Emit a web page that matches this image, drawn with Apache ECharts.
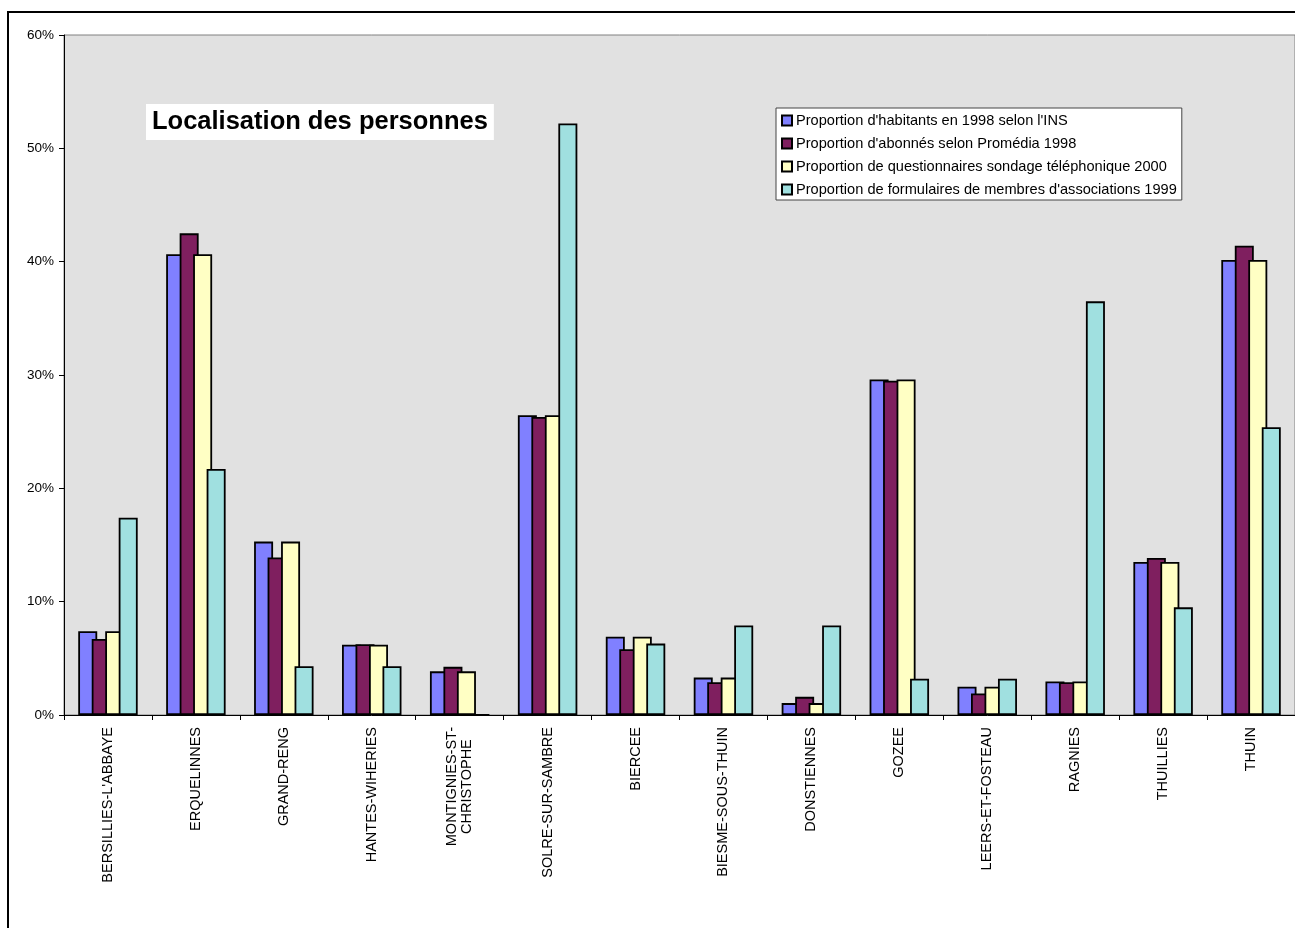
<!DOCTYPE html>
<html>
<head>
<meta charset="utf-8">
<script src="https://cdn.jsdelivr.net/npm/echarts@6/dist/echarts.min.js"></script>
<style>
html,body{margin:0;padding:0;background:#fff;}
#chart{width:1295px;height:928px;}
</style>
</head>
<body>
<div id="chart"></div>
<script>
const categories = ["BERSILLIES-L'ABBAYE","ERQUELINNES","GRAND-RENG","HANTES-WIHERIES","MONTIGNIES-ST-\nCHRISTOPHE","SOLRE-SUR-SAMBRE","BIERCEE","BIESME-SOUS-THUIN","DONSTIENNES","GOZEE","LEERS-ET-FOSTEAU","RAGNIES","THUILLIES","THUIN"];
const seriesNames = ["Proportion d'habitants en 1998 selon l'INS","Proportion d'abonnés selon Promédia 1998","Proportion de questionnaires sondage téléphonique 2000","Proportion de formulaires de membres d'associations 1999"];
const habitantsINS = [7.4, 40.65, 15.3, 6.2, 3.85, 26.45, 6.9, 3.3, 1.05, 29.6, 2.5, 2.95, 13.5, 40.15];
const abonnesPromedia = [6.7, 42.5, 13.9, 6.25, 4.25, 26.3, 5.8, 2.9, 1.6, 29.5, 1.9, 2.9, 13.85, 41.4];
const sondageTel = [7.4, 40.65, 15.3, 6.2, 3.85, 26.45, 6.9, 3.3, 1.05, 29.6, 2.5, 2.95, 13.5, 40.15];
const formulairesAssoc = [17.4, 21.7, 4.3, 4.3, 0, 52.2, 6.3, 7.9, 7.9, 3.2, 3.2, 36.5, 9.5, 25.4];
const yTicks = [0, 10, 20, 30, 40, 50, 60];
const titleText = "Localisation des personnes";

const colors = ['#8080ff', '#7f1f5f', '#ffffc4', '#a0e0e0'];
const allData = [habitantsINS, abonnesPromedia, sondageTel, formulairesAssoc];
const font = 'Liberation Sans, Arial, sans-serif';

const chart = echarts.init(document.getElementById('chart'));
chart.setOption({
  animation: false,
  backgroundColor: '#fff',
  title: {
    text: titleText,
    left: 146, top: 104,
    padding: [5, 6, 5, 6],
    backgroundColor: '#ffffff',
    textStyle: {fontFamily: font, fontSize: 25.5, fontWeight: 'bold', color: '#000'}
  },
  legend: {
    orient: 'vertical',
    left: 776, top: 108,
    padding: [5, 5, 3, 5],
    backgroundColor: '#ffffff',
    borderColor: '#444',
    borderWidth: 1,
    itemWidth: 10, itemHeight: 10,
    itemGap: 8,
    icon: 'rect',
    textStyle: {fontFamily: font, fontSize: 14.6, lineHeight: 14, color: '#000', padding: [0, 0, 0, -1]},
    data: seriesNames
  },
  grid: {
    left: 64, right: -2, top: 35, bottom: 213,
    show: true, backgroundColor: '#e1e1e1', borderColor: '#808080', borderWidth: 1
  },
  xAxis: {
    type: 'category',
    data: categories,
    axisLine: {lineStyle: {color: '#000', width: 1}},
    axisTick: {show: true, length: 5, lineStyle: {color: '#000'}},
    axisLabel: {
      rotate: 90, interval: 0, margin: 12,
      fontFamily: font, fontSize: 14.5, color: '#000', lineHeight: 15,
      formatter: function (v) {
        if (v.indexOf('\n') >= 0) {
          return v.split('\n').map(s => '{c|' + s + '}').join('\n');
        }
        return v;
      },
      rich: {c: {align: 'center', fontFamily: font, fontSize: 14.5, color: '#000', lineHeight: 15}}
    },
    splitLine: {show: false}
  },
  yAxis: {
    type: 'value',
    min: yTicks[0], max: yTicks[yTicks.length - 1], interval: 10,
    axisLine: {show: true, lineStyle: {color: '#000', width: 1}},
    axisTick: {show: true, length: 5, lineStyle: {color: '#000'}},
    axisLabel: {formatter: '{value}%', fontFamily: font, fontSize: 13.5, color: '#000', margin: 10},
    splitLine: {show: false}
  },
  series: seriesNames.map((name, i) => ({
    name: name,
    type: 'bar',
    data: allData[i],
    barWidth: 19,
    barGap: '-29%',
    itemStyle: {color: colors[i], borderColor: '#000', borderWidth: 1.8},
    emphasis: {disabled: true}
  })),
  graphic: [{
    type: 'rect',
    shape: {x: 8, y: 12, width: 1400, height: 1000},
    style: {fill: 'none', stroke: '#000', lineWidth: 2},
    z: 100
  }]
});
</script>
</body>
</html>
